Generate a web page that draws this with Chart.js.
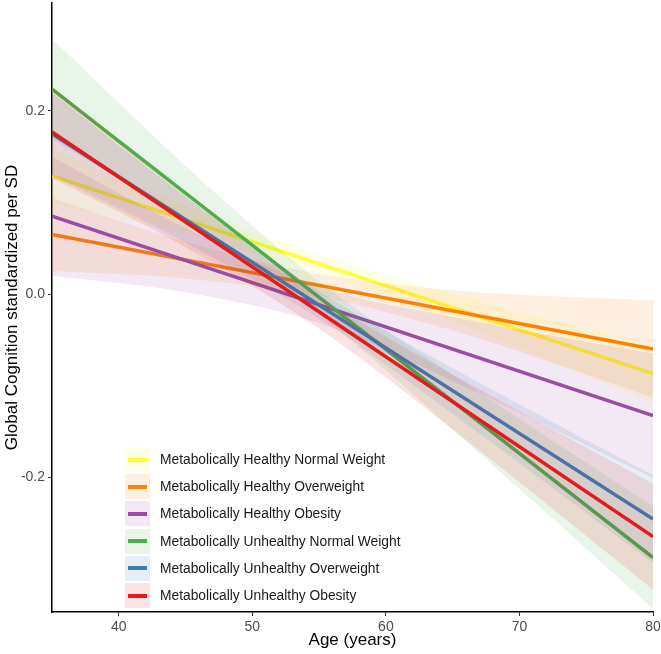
<!DOCTYPE html>
<html>
<head>
<meta charset="utf-8">
<script src="https://cdn.jsdelivr.net/npm/chart.js@4.4.1/dist/chart.umd.min.js"></script>
<style>
    html, body { margin: 0; padding: 0; background: #ffffff; }
    #wrap { position: relative; width: 661px; height: 654px; }
    #legend {
        position: absolute;
        left: 125px;
        top: 446px;
        font-family: "Liberation Sans", Arial, sans-serif;
        font-size: 13.8px;
        color: #1a1a1a;
    }
    .row { display: flex; align-items: center; height: 27.2px; }
    .key { position: relative; width: 25px; height: 25px; margin-right: 10px; }
    .key span { position: absolute; left: 3px; right: 3px; top: 10.5px; height: 4px; }
</style>
</head>
<body>
<div id="wrap">
    <canvas id="cognitionChart" width="661" height="654"></canvas>
    <div id="legend"></div>
</div>
<script>
const groups = [
    'Metabolically Healthy Normal Weight',
    'Metabolically Healthy Overweight',
    'Metabolically Healthy Obesity',
    'Metabolically Unhealthy Normal Weight',
    'Metabolically Unhealthy Overweight',
    'Metabolically Unhealthy Obesity',
];
const colors = ['#FFFF33', '#FF7F00', '#984EA3', '#4DAF4A', '#377EB8', '#E41A1C'];

const xTicks = [40, 50, 60, 70, 80];
const yTicks = [-0.2, 0.0, 0.2];

// fitted lines, value at age 35 and age 80
const fitAges = [35, 80];
const fitMHNW = [0.129, -0.087];
const fitMHOW = [0.065, -0.060];
const fitMHO = [0.085, -0.133];
const fitMUNW = [0.224, -0.288];
const fitMUOW = [0.175, -0.246];
const fitMUO = [0.177, -0.265];

// confidence bands read at these ages
const bandAges = [35, 45, 55, 65, 80];
const upperMHNW = [0.159, 0.096, 0.043, 0.000, -0.055];
const lowerMHNW = [0.099, 0.066, 0.023, -0.030, -0.119];
const upperMHOW = [0.105, 0.057, 0.022, 0.004, -0.007];
const lowerMHOW = [0.025, 0.017, -0.003, -0.040, -0.113];
const upperMHO = [0.150, 0.072, 0.008, -0.025, -0.065];
const lowerMHO = [0.020, 0.002, -0.032, -0.095, -0.201];
const upperMUNW = [0.279, 0.140, 0.014, -0.088, -0.232];
const lowerMUNW = [0.169, 0.080, -0.022, -0.148, -0.344];
const upperMUOW = [0.220, 0.106, 0.003, -0.081, -0.198];
const lowerMUOW = [0.130, 0.056, -0.027, -0.131, -0.294];
const upperMUO = [0.227, 0.107, -0.002, -0.088, -0.207];
const lowerMUO = [0.127, 0.051, -0.038, -0.148, -0.323];

const fits = [fitMHNW, fitMHOW, fitMHO, fitMUNW, fitMUOW, fitMUO];
const uppers = [upperMHNW, upperMHOW, upperMHO, upperMUNW, upperMUOW, upperMUO];
const lowers = [lowerMHNW, lowerMHOW, lowerMHO, lowerMUNW, lowerMUOW, lowerMUO];

function hexToRgba(hex, alpha) {
    const n = parseInt(hex.slice(1), 16);
    return `rgba(${(n >> 16) & 255}, ${(n >> 8) & 255}, ${n & 255}, ${alpha})`;
}

function points(xs, ys) {
    return xs.map((x, i) => ({ x: x, y: ys[i] }));
}

// chart.js paints the last dataset first, so the last group goes first here:
// each group paints its band, then its line, and later groups cover earlier ones
const datasets = [];
for (let i = groups.length - 1; i >= 0; i--) {
    datasets.push({
        label: groups[i],
        data: points(fitAges, fits[i]),
        borderColor: colors[i],
        borderWidth: 3.5,
        pointRadius: 0,
        fill: false,
    });
    datasets.push({
        label: groups[i] + ' upper',
        data: points(bandAges, uppers[i]),
        borderWidth: 0,
        pointRadius: 0,
        cubicInterpolationMode: 'monotone',
        backgroundColor: hexToRgba(colors[i], 0.12),
        fill: '+1',
    });
    datasets.push({
        label: groups[i] + ' lower',
        data: points(bandAges, lowers[i]),
        borderWidth: 0,
        pointRadius: 0,
        cubicInterpolationMode: 'monotone',
        fill: false,
    });
}

const fontFamily = '"Liberation Sans", Arial, sans-serif';

new Chart(document.getElementById('cognitionChart'), {
    type: 'line',
    data: { datasets: datasets },
    options: {
        responsive: false,
        animation: false,
        layout: { padding: { top: 3, right: 8, left: 0, bottom: 0 } },
        plugins: {
            legend: { display: false },
            tooltip: { enabled: false },
        },
        scales: {
            x: {
                type: 'linear',
                min: 35,
                max: 80,
                afterBuildTicks: (scale) => {
                    scale.ticks = xTicks.map((v) => ({ value: v }));
                },
                afterFit: (scale) => {
                    scale.height = 42;
                    scale.paddingLeft = 0;
                    scale.paddingRight = 0;
                },
                ticks: {
                    color: '#4d4d4d',
                    padding: 3,
                    font: { family: fontFamily, size: 14 },
                },
                grid: {
                    drawOnChartArea: false,
                    drawTicks: true,
                    tickLength: 4,
                    color: '#333333',
                },
                border: { display: true, color: '#000000', width: 1.5 },
                title: {
                    display: true,
                    text: 'Age (years)',
                    color: '#000000',
                    padding: { top: 0, bottom: 3 },
                    font: { family: fontFamily, size: 17 },
                },
            },
            y: {
                type: 'linear',
                min: -0.3475,
                max: 0.318,
                afterBuildTicks: (scale) => {
                    scale.ticks = yTicks.map((v) => ({ value: v }));
                },
                afterFit: (scale) => {
                    scale.width = 52;
                    scale.paddingTop = 0;
                    scale.paddingBottom = 0;
                },
                ticks: {
                    color: '#4d4d4d',
                    padding: 3,
                    font: { family: fontFamily, size: 14 },
                    callback: (value) => value.toFixed(1),
                },
                grid: {
                    drawOnChartArea: false,
                    drawTicks: true,
                    tickLength: 4,
                    color: '#333333',
                },
                border: { display: true, color: '#000000', width: 1.5 },
                title: {
                    display: true,
                    text: 'Global Cognition standardized per SD',
                    color: '#000000',
                    padding: { top: 2, bottom: 2 },
                    font: { family: fontFamily, size: 17 },
                },
            },
        },
    },
});

const legend = document.getElementById('legend');
groups.forEach((name, i) => {
    const row = document.createElement('div');
    row.className = 'row';
    const key = document.createElement('div');
    key.className = 'key';
    key.style.background = hexToRgba(colors[i], 0.12);
    const swatch = document.createElement('span');
    swatch.style.background = colors[i];
    key.appendChild(swatch);
    const label = document.createElement('div');
    label.textContent = name;
    row.appendChild(key);
    row.appendChild(label);
    legend.appendChild(row);
});
</script>
</body>
</html>
